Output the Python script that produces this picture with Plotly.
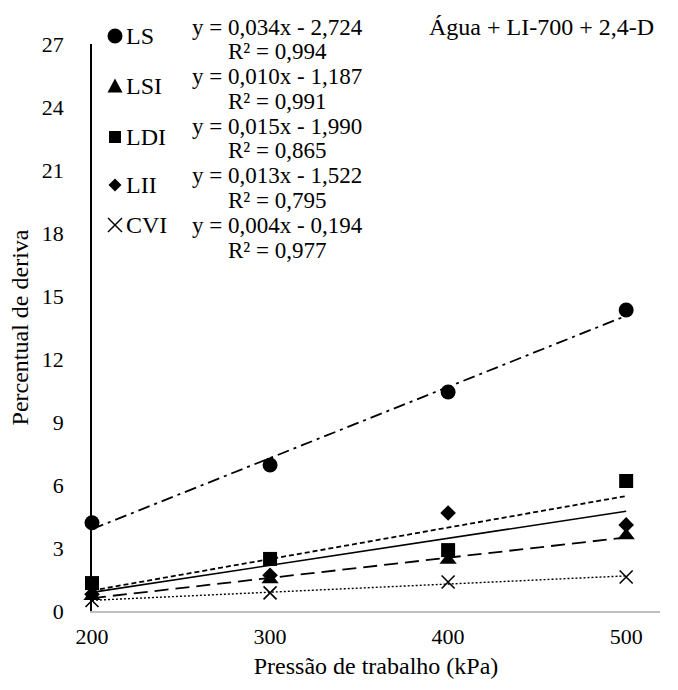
import numpy as np
import plotly.graph_objects as go

# ---- data ----
pressure = [200, 300, 400, 500]
series_names = ["LS", "LSI", "LDI", "LII", "CVI"]
ls_vals = [4.2, 6.95, 10.43, 14.33]
lsi_vals = [0.7, 1.5, 2.43, 3.6]
ldi_vals = [1.33, 2.48, 2.9, 6.19]
lii_vals = [0.8, 1.7, 4.67, 4.1]
cvi_vals = [0.5, 0.86, 1.38, 1.62]
equations = ["y = 0,034x - 2,724", "y = 0,010x - 1,187", "y = 0,015x - 1,990",
             "y = 0,013x - 1,522", "y = 0,004x - 0,194"]
r2_texts = ["R² = 0,994", "R² = 0,991", "R² = 0,865", "R² = 0,795", "R² = 0,977"]
y_ticks = [0, 3, 6, 9, 12, 15, 18, 21, 24, 27]
x_ticks = [200, 300, 400, 500]

values = [ls_vals, lsi_vals, ldi_vals, lii_vals, cvi_vals]

FONT = "Liberation Serif"
FS_TICK = 22
FS_TEXT = 24
FS_EQ = 23
W, H = 678, 690
L, R, T, B = 92, 18, 44, 79
PX0, PX1, PY0, PY1 = L, W - R, H - B, T


def px(x):
    return (x - PX0) / (PX1 - PX0)


def py(y):
    return (PY0 - y) / (PY0 - PY1)


symbols = ["circle", "triangle-up", "square", "diamond", "x-thin-open"]
msizes = [15, 15, 14, 12, 13]
dashes = ["12px,5px,3px,5px", "14px,7px", "5px,3px", "solid", "2px,2px"]
lwidths = [1.8, 1.8, 1.8, 1.6, 1.4]

fig = go.Figure()

# trend lines: least-squares fit of each series
for name, vals, dash, lw in zip(series_names, values, dashes, lwidths):
    coef = np.polyfit(pressure, vals, 1)
    fit = np.polyval(coef, pressure)
    fig.add_trace(go.Scatter(x=pressure, y=fit, mode="lines",
                             line=dict(color="black", width=lw, dash=dash),
                             showlegend=False, hoverinfo="skip", cliponaxis=False))

# observed points
for name, vals, sym, ms in zip(series_names, values, symbols, msizes):
    marker = dict(symbol=sym, size=ms, color="black")
    if sym == "x-thin-open":
        marker["line"] = dict(color="black", width=1.6)
    fig.add_trace(go.Scatter(x=pressure, y=vals, mode="markers", name=name,
                             marker=marker, showlegend=False, cliponaxis=False))

# ---- legend (shapes + labels) and equations ----
leg_y = [36, 86, 137, 185, 225]
eq_top, eq_bot = 27, 250
step = (eq_bot - eq_top) / 9
line_y = [eq_top + k * step for k in range(10)]
eq_y = line_y[0::2]
r2_y = line_y[1::2]
gx = 115
shapes = []
for i, (name, yy) in enumerate(zip(series_names, leg_y)):
    common = dict(xref="paper", yref="paper", xsizemode="pixel", ysizemode="pixel",
                  xanchor=px(gx), yanchor=py(yy), fillcolor="black",
                  line=dict(color="black", width=0))
    if i == 0:
        shapes.append(dict(type="circle", x0=-7.5, x1=7.5, y0=-7.5, y1=7.5, **common))
    elif i == 1:
        shapes.append(dict(type="path", path="M-7.5,-6.5 L7.5,-6.5 L0,7.5 Z", **common))
    elif i == 2:
        shapes.append(dict(type="rect", x0=-6, x1=6, y0=-6, y1=6, **common))
    elif i == 3:
        shapes.append(dict(type="path", path="M0,-6.5 L6.5,0 L0,6.5 L-6.5,0 Z", **common))
    else:
        c2 = dict(common)
        c2["line"] = dict(color="black", width=1.4)
        shapes.append(dict(type="line", x0=-7, x1=7, y0=-7, y1=7, **c2))
        shapes.append(dict(type="line", x0=-7, x1=7, y0=7, y1=-7, **c2))

annotations = []
for name, yy in zip(series_names, leg_y):
    annotations.append(dict(text=name, x=px(124), y=py(yy), xref="paper", yref="paper",
                            xanchor="left", yanchor="middle", showarrow=False,
                            font=dict(family=FONT, size=FS_TEXT, color="black")))
for eq, r2, ey, ry in zip(equations, r2_texts, eq_y, r2_y):
    annotations.append(dict(text=eq, x=px(277), y=py(ey), xref="paper", yref="paper",
                            xanchor="center", yanchor="middle", showarrow=False,
                            font=dict(family=FONT, size=FS_EQ, color="black")))
    annotations.append(dict(text=r2, x=px(277), y=py(ry), xref="paper", yref="paper",
                            xanchor="center", yanchor="middle", showarrow=False,
                            font=dict(family=FONT, size=FS_EQ, color="black")))
annotations.append(dict(text="Água + LI-700 + 2,4-D", x=px(656), y=py(27),
                        xref="paper", yref="paper", xanchor="right", yanchor="middle",
                        showarrow=False, font=dict(family=FONT, size=FS_TEXT, color="black")))

fig.update_layout(
    width=W, height=H,
    margin=dict(l=L, r=R, t=T, b=B, pad=0, autoexpand=False),
    paper_bgcolor="white", plot_bgcolor="white",
    font=dict(family=FONT, size=FS_TICK, color="black"),
    shapes=shapes, annotations=annotations,
    showlegend=False,
)
fig.update_xaxes(range=[200, 519], tickvals=x_ticks, showgrid=False, zeroline=False,
                 showline=True, linecolor="#bfbfbf", linewidth=1.5,
                 ticks="", ticklabelstandoff=5, automargin=False,
                 title=dict(text="Pressão de trabalho (kPa)", standoff=9,
                            font=dict(family=FONT, size=FS_TEXT)),
                 tickfont=dict(family=FONT, size=FS_TICK))
fig.update_yaxes(range=[0, 27], tickvals=y_ticks, showgrid=False, zeroline=False,
                 showline=True, linecolor="black", linewidth=1.5,
                 ticks="", ticklabelstandoff=22, automargin=False,
                 title=dict(text="Percentual de deriva", standoff=6,
                            font=dict(family=FONT, size=FS_TEXT)),
                 tickfont=dict(family=FONT, size=FS_TICK))

fig.write_html("out.html")
